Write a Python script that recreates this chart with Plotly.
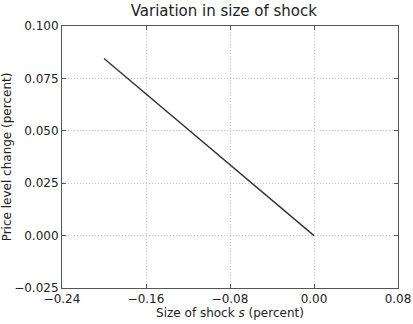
import plotly.graph_objects as go

shock_size = [-0.20, -0.15, -0.10, -0.05, 0.0]
price_change = [0.0845, 0.0634, 0.0423, 0.0211, 0.0]

x_ticks = [-0.24, -0.16, -0.08, 0.00, 0.08]
x_tick_text = ["\u22120.24", "\u22120.16", "\u22120.08", "0.00", "0.08"]
y_ticks = [-0.025, 0.0, 0.025, 0.05, 0.075, 0.1]
y_tick_text = ["\u22120.025", "0.000", "0.025", "0.050", "0.075", "0.100"]

font = "DejaVu Sans"

fig = go.Figure()
fig.add_trace(go.Scatter(x=shock_size, y=price_change, mode="lines",
                         line=dict(color="#333333", width=1.4), showlegend=False))

axis_common = dict(showline=True, linecolor="#555555", linewidth=1, mirror="ticks",
                   ticks="inside", ticklen=4, tickcolor="#555555", automargin=False,
                   showgrid=True, gridcolor="#c8c8c8", griddash="1px,2px", gridwidth=1,
                   zeroline=False, tickfont=dict(family=font, size=12, color="#222222"))

fig.update_xaxes(range=[-0.24, 0.08], tickvals=x_ticks, ticktext=x_tick_text,
                 title=dict(text="Size of shock <i>s</i> (percent)", standoff=2,
                            font=dict(family=font, size=12, color="#222222")),
                 **axis_common)
fig.update_yaxes(range=[-0.025, 0.1], tickvals=y_ticks, ticktext=y_tick_text,
                 title=dict(text="Price level change (percent)", standoff=4,
                            font=dict(family=font, size=12, color="#222222")),
                 **axis_common)

fig.update_layout(
    width=413, height=324,
    margin=dict(l=62, r=15, t=26, b=36),
    paper_bgcolor="white", plot_bgcolor="white",
    title=dict(text="Variation in size of shock", x=0.542, xanchor="center",
               y=0.968, yanchor="middle",
               font=dict(family=font, size=15, color="#222222")),
)

fig.write_html("out.html")
